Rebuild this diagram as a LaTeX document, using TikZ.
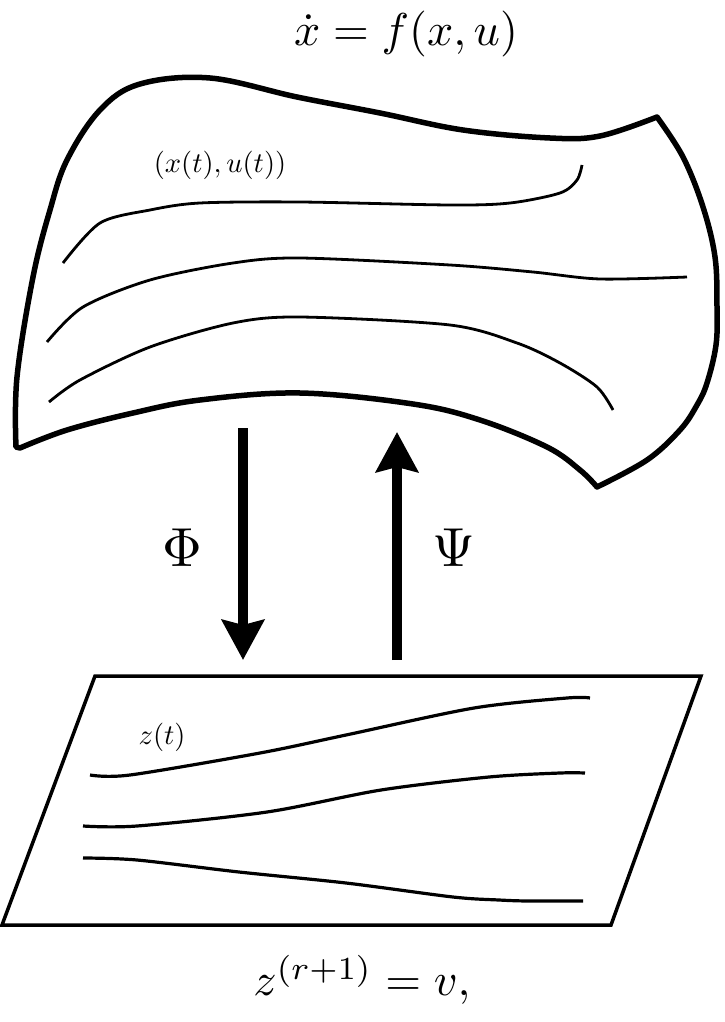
\documentclass[tikz,border=0pt]{standalone}
\usetikzlibrary{arrows.meta}
\begin{document}
\begin{tikzpicture}[x=1pt,y=-1pt,
  surface/.style={line width=5.5pt,line join=round},
  trajline/.style={line width=2.8pt},
  flatplane/.style={line width=3.5pt,line join=miter},
  flatline/.style={line width=3.2pt},
  maparrow/.style={line width=10pt,-{Stealth[width=42pt,length=40pt,inset=5pt]}},
  biglabel/.style={scale=4.6},
  greeklabel/.style={scale=5.5},
  smalllabel/.style={scale=2.85}]
\useasboundingbox (0,0) rectangle (724,1022);
% curved state space
\draw[surface] plot[smooth,tension=0.6] coordinates {(16,447) (17,377) (33,277) (50,210) (67,160) (100,110) (140,84) (210,78) (297,97) (380,113) (463,130) (550,138) (600,136) (657,117)}
  -- plot[smooth,tension=0.6] coordinates {(657,117) (683,157) (703,207) (715,257) (717,307) (716,345) (707,383) (697,405) (680,430) (647,460) (597,487)}
  -- plot[smooth,tension=0.6] coordinates {(597,487) (580,470) (547,447) (480,420) (413,404) (300,393) (200,400) (133,413) (67,430) (20,448)}
  -- cycle;
\draw[trajline] plot[smooth] coordinates {(63,263) (100,223) (150,210) (200,203) (300,202) (450,205) (510,203) (560,193) (577,180) (582,165)};
\draw[trajline] plot[smooth] coordinates {(47,342) (83,307) (150,280) (233,263) (300,258) (450,265) (533,272) (600,279) (687,277)};
\draw[trajline] plot[smooth] coordinates {(49,402) (80,380) (150,347) (233,323) (300,317) (450,325) (517,343) (560,363) (597,387) (613,410)};
% flat space
\draw[flatplane] (95,676) -- (701,676) -- (611,925) -- (2,925) -- cycle;
\draw[flatline] plot[smooth,tension=0.5] coordinates {(90,775) (130,775) (260,753) (346,735) (474,708) (567,698) (590,698)};
\draw[flatline] plot[smooth,tension=0.5] coordinates {(83,826) (137,826) (267,812) (381,790) (489,777) (560,773) (585,773)};
\draw[flatline] plot[smooth,tension=0.5] coordinates {(83,858) (137,860) (239,872) (346,883) (453,897) (499,900) (528,901) (583,901)};
% maps
\coordinate (phitop) at (243,428);
\coordinate (phibot) at (243,660);
\coordinate (psibot) at (397,660);
\coordinate (psitop) at (397,432);
\draw[maparrow] (phitop) -- (phibot);
\draw[maparrow] (psibot) -- (psitop);
% labels
\node[biglabel] (sysx) at (406,34) {$\dot{x} = f(x,u)$};
\node[smalllabel] (trajx) at (220,165) {$(x(t),u(t))$};
\node[smalllabel] (trajz) at (162,737) {$z(t)$};
\node[greeklabel] (phi) at (182,548) {$\Phi$};
\node[greeklabel] (psi) at (454,548) {$\Psi$};
\node[biglabel] (sysz) at (362,980) {$z^{(r+1)} = v,$};
\end{tikzpicture}
\end{document}
